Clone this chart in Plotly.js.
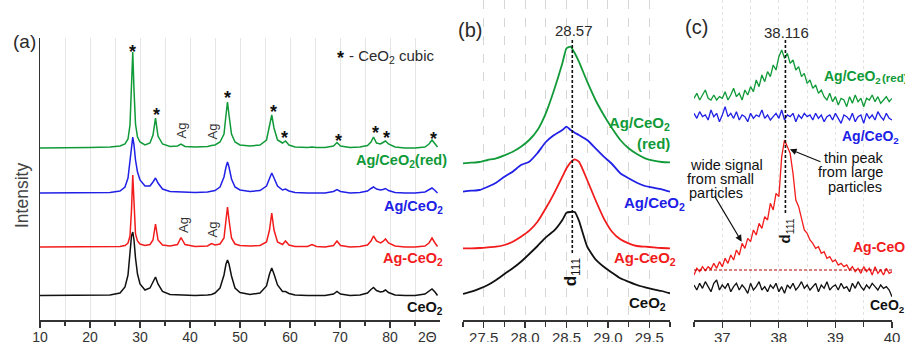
<!DOCTYPE html>
<html><head><meta charset="utf-8">
<script src="https://cdn.plot.ly/plotly-3.0.1.min.js"></script>
<style>html,body{margin:0;padding:0;background:#fff}#chart{width:905px;height:342px}</style>
</head><body><div id="chart"></div>
<script>
// ---------- Panel (a): full XRD patterns (stacked, arbitrary units) ----------
const thetaA = [10, 15, 20, 24, 26, 27, 27.6, 28.0, 28.3, 28.55, 28.8, 29.1, 29.5, 30, 31, 32, 32.6, 33.1, 33.6, 34.5,
  36, 37.5, 38.2, 39, 41, 43.5, 44.3, 45, 46, 46.8, 47.2, 47.5, 47.8, 48.3, 49, 50, 52, 54, 55.3, 55.9,
  56.35, 56.8, 57.5, 58.5, 59.1, 59.8, 61, 63.5, 64.4, 65.3, 67, 68.7, 69.4, 70.1, 72, 74, 75.5, 76.2, 76.7, 77.3,
  78.1, 78.6, 79.1, 79.7, 81, 83, 85, 87, 87.8, 88.4, 89, 89.5];
const aAgCeO2red = [172, 172, 172.5, 173, 174, 176, 181, 195, 235, 268, 230, 196, 183, 178, 175, 177, 185, 202, 184, 176,
  173.5, 174, 176, 173.5, 173, 173.5, 174.5, 175, 178, 186, 205, 218, 205, 186, 178, 175, 174, 175, 180, 193,
  205, 192, 180, 177, 179, 175, 173, 172.5, 173, 172.5, 172.5, 174, 177.5, 174, 172.5, 173, 174.5, 178, 183, 177,
  176, 177.5, 179, 176, 173, 172, 172, 173, 176, 180, 176, 173];
const aAgCeO2 = [127, 127, 127, 127.5, 129, 133, 142, 160, 178, 183, 175, 160, 148, 140, 134, 134, 138, 142, 137, 131,
  128.5, 128, 128, 127.5, 127.5, 128, 128.5, 129.5, 133, 143, 153, 158, 153, 141, 133, 130, 128.5, 129.5, 134, 142,
  147, 142, 134, 130, 131, 129, 127.5, 127, 127, 127, 127, 128.5, 130.5, 128.5, 127, 127.5, 129, 131.5, 133, 131,
  130, 130.5, 131.5, 129.5, 127.5, 127, 127, 128, 130, 132, 129.5, 127];
const aAg_CeO2 = [73, 73, 73, 73, 73.5, 74.5, 77, 84, 110, 145, 115, 86, 79, 76, 74.5, 75.5, 80, 96, 80, 75,
  74, 75.5, 82.5, 75.5, 73.5, 74, 76.5, 75, 76, 82, 100, 113, 100, 82, 76, 74.5, 74, 74.5, 78, 90,
  107, 90, 78, 75.5, 79, 75, 73.5, 73.5, 75.5, 73.5, 73, 74.5, 79, 74.5, 73, 73.5, 75, 79, 84, 79,
  77, 78.5, 81, 77, 74, 73, 73, 74, 77, 82, 77, 73.5];
const aCeO2 = [24.5, 24.5, 24.5, 25, 27, 33, 45, 68, 84, 88, 80, 62, 46, 36, 30, 32, 38, 43, 36, 28.5,
  25.5, 25, 25, 24.5, 24.5, 25, 25.5, 27, 32, 45, 56, 60, 56, 44, 32, 27.5, 25.5, 27, 34, 46,
  52, 46, 35, 28.5, 28.5, 26.5, 25, 24.5, 24.5, 24.5, 24.5, 26, 28.5, 26, 24.5, 25, 27, 30.5, 32.5, 29.5,
  28, 28.5, 30, 27.5, 25, 24.5, 24.5, 26, 29, 31, 28, 24.5];
const tickA = [10, 20, 30, 40, 50, 60, 70, 80];
const tickAMinor = [15, 25, 35, 45, 55, 65, 75, 85];
const starPeaksA = [[28.5, 273], [33.3, 210], [47.5, 227], [56.7, 213], [58.9, 187], [69.7, 184], [77.0, 192], [79.2, 187], [88.7, 186]];
const agPeaksA = [[38.1, 189], [44.3, 188], [38.6, 95], [44.3, 90]];

// ---------- Panel (b): (111) reflection zoom ----------
const thetaB = [27.25, 27.35, 27.45, 27.55, 27.65, 27.75, 27.85, 27.95, 28.05, 28.15, 28.25, 28.35, 28.45, 28.5,
  28.55, 28.6, 28.65, 28.75, 28.85, 28.95, 29.05, 29.15, 29.25, 29.35, 29.45, 29.55, 29.65, 29.75];
const bAgCeO2red = [156.7, 157.3, 158.0, 160.0, 161.7, 164.7, 168.3, 173.3, 180.0, 190.0, 206.7, 230.0, 256.7, 271.7,
  273.3, 266.7, 258.3, 238.3, 220.0, 205.0, 191.7, 180.0, 171.7, 166.0, 161.7, 159.3, 158.0, 157.7];
const bAgCeO2 = [128.3, 129.3, 130.0, 133.3, 137.3, 143.3, 148.3, 155.0, 158.3, 167.0, 178.0, 185.0, 190.0, 193.3,
  190.0, 187.3, 185.0, 180.0, 171.7, 163.3, 156.0, 146.7, 141.7, 137.3, 134.0, 132.3, 130.7, 128.3];
const bAg_CeO2 = [71.7, 71.7, 72.0, 72.7, 73.3, 75.0, 78.3, 83.3, 89.3, 98.3, 111.7, 126.7, 143.3, 151.7,
  157.7, 160.7, 158.3, 140.0, 120.0, 101.7, 88.3, 80.7, 76.7, 74.0, 73.3, 72.7, 72.0, 71.7];
const bCeO2 = [26.0, 28.3, 31.3, 35.0, 40.0, 46.0, 51.7, 58.3, 66.0, 74.0, 82.7, 89.3, 100.0, 107.3,
  108.0, 108.0, 99.3, 73.3, 60.7, 53.3, 47.3, 41.7, 38.3, 35.0, 32.7, 30.7, 29.0, 26.7];
const tickB = [27.5, 28.0, 28.5, 29.0, 29.5];
const tickBText = ['27.5', '28.0', '28.5', '29.0', '29.5'];
const tickBMinor = [27.25, 27.75, 28.25, 28.75, 29.25, 29.75];
const peakB = 28.57;

// ---------- Panel (c): Ag (111) reflection zoom ----------
const thetaC = [36.5, 36.55, 36.6, 36.65, 36.7, 36.75, 36.8, 36.85, 36.9, 36.95,
  37.0, 37.05, 37.1, 37.15, 37.2, 37.25, 37.3, 37.35, 37.4, 37.45,
  37.5, 37.55, 37.6, 37.65, 37.7, 37.75, 37.8, 37.85, 37.9, 37.95,
  38.0, 38.05, 38.1, 38.15, 38.2, 38.25, 38.3, 38.35, 38.4, 38.45,
  38.5, 38.55, 38.6, 38.65, 38.7, 38.75, 38.8, 38.85, 38.9, 38.95,
  39.0, 39.05, 39.1, 39.15, 39.2, 39.25, 39.3, 39.35, 39.4, 39.45,
  39.5, 39.55, 39.6, 39.65, 39.7, 39.75, 39.8, 39.85, 39.9, 39.95, 40.0];
const cAgCeO2red = [665, 680, 660, 675, 690, 665, 660, 675, 660, 670, 665, 685, 660, 675, 695, 670, 680, 660, 690, 675,
  700, 685, 720, 700, 735, 715, 745, 730, 765, 750, 790, 810, 785, 800, 770, 780, 750, 760, 730, 740,
  710, 720, 695, 705, 680, 690, 670, 660, 680, 655, 670, 645, 665, 660, 640, 670, 650, 675, 655, 665,
  640, 665, 660, 675, 655, 670, 650, 660, 670, 655, 665];
const cAgCeO2 = [620, 605, 625, 610, 615, 600, 630, 610, 620, 595, 615, 640, 610, 620, 605, 625, 600, 615, 610, 595,
  620, 605, 615, 610, 630, 605, 615, 600, 610, 620, 605, 630, 600, 615, 610, 620, 595, 615, 605, 620,
  610, 615, 600, 620, 605, 615, 595, 610, 615, 600, 620, 605, 590, 615, 610, 600, 620, 595, 610, 615,
  590, 620, 605, 615, 600, 625, 610, 600, 620, 605, 600];
const cAg_CeO2 = [135, 155, 145, 160, 148, 160, 152, 170, 155, 175, 160, 185, 170, 195, 180, 210, 195, 230, 215, 245,
  235, 270, 255, 290, 275, 310, 300, 350, 330, 380, 370, 490, 540, 520, 500, 440, 360, 340, 300, 270,
  260, 240, 230, 215, 220, 200, 205, 185, 190, 175, 180, 165, 170, 160, 165, 150, 160, 145, 155, 140,
  160, 145, 155, 135, 160, 140, 150, 135, 155, 140, 145];
const cCeO2 = [105, 90, 110, 95, 115, 100, 85, 110, 120, 90, 105, 95, 110, 85, 100, 110, 90, 105, 95, 80,
  110, 90, 100, 115, 90, 100, 85, 105, 95, 110, 85, 100, 80, 105, 95, 110, 90, 100, 115, 95,
  105, 90, 100, 110, 85, 105, 95, 115, 90, 100, 105, 90, 110, 95, 100, 85, 110, 95, 115, 100,
  90, 105, 95, 110, 100, 90, 105, 95, 100, 90, 70];
const tickC = [37, 38, 39, 40];
const tickCMinor = [36.5, 37.5, 38.5, 39.5];
const peakC = 38.116;
const baseC = 150;

// ---------- styling ----------
const W = 905, H = 342;
const FONT = '"Liberation Sans", Arial, Helvetica, sans-serif';
const GREEN = '#109a38', BLUE = '#2020e6', RED = '#f21c1c', BLACK = '#111111', TXT = '#2a2a2a';

function line(x, y, xa, ya, color, w) {
  return {x: x, y: y, xaxis: xa, yaxis: ya, type: 'scatter', mode: 'lines',
    line: {color: color, width: w}, hoverinfo: 'skip', showlegend: false};
}
function splineLine(x, y, xa, ya, color, w) {
  const t = line(x, y, xa, ya, color, w);
  t.line.shape = 'spline'; t.line.smoothing = 0.5;
  return t;
}
const traces = [
  line(thetaA, aCeO2, 'x', 'y', BLACK, 1.5),
  line(thetaA, aAg_CeO2, 'x', 'y', RED, 1.5),
  line(thetaA, aAgCeO2, 'x', 'y', BLUE, 1.5),
  line(thetaA, aAgCeO2red, 'x', 'y', GREEN, 1.5),
  splineLine(thetaB, bCeO2, 'x2', 'y2', BLACK, 1.8),
  splineLine(thetaB, bAg_CeO2, 'x2', 'y2', RED, 1.8),
  splineLine(thetaB, bAgCeO2, 'x2', 'y2', BLUE, 1.8),
  splineLine(thetaB, bAgCeO2red, 'x2', 'y2', GREEN, 1.8),
  line(thetaC, cCeO2, 'x3', 'y3', BLACK, 1.3),
  line(thetaC, cAg_CeO2, 'x3', 'y3', RED, 1.3),
  line(thetaC, cAgCeO2, 'x3', 'y3', BLUE, 1.3),
  line(thetaC, cAgCeO2red, 'x3', 'y3', GREEN, 1.3)
];

function P(text, px, py, size, color, xanchor, extra) {
  return Object.assign({xref: 'paper', yref: 'paper', x: px / W, y: 1 - py / H, text: text, showarrow: false,
    xanchor: xanchor || 'center', yanchor: 'middle', font: {family: FONT, size: size, color: color || TXT}}, extra || {});
}
function D(text, xr, yr, x, y, size, color, extra) {
  return Object.assign({xref: xr, yref: yr, x: x, y: y, text: text, showarrow: false,
    xanchor: 'center', yanchor: 'middle', font: {family: FONT, size: size, color: color || TXT}}, extra || {});
}
const sub2 = 'CeO<sub>2</sub>';
const ann = [];
// panel tags
ann.push(P('(a)', 24, 42, 19));
ann.push(P('(b)', 470, 30, 20));
ann.push(P('(c)', 696, 27, 20));
ann.push(P('Intensity', 22, 196, 17.5, '#444', 'center', {textangle: -90}));
ann.push(P('2Θ', 427, 337, 14, '#333'));
// panel (a)
ann.push(P('<b>*</b>', 340, 58, 18, BLACK));
ann.push(P('- ' + sub2 + ' cubic', 437, 56, 15, TXT, 'right'));
starPeaksA.forEach(p => ann.push(D('<b>*</b>', 'x', 'y', p[0], p[1], 18, BLACK, {yshift: -5})));
agPeaksA.forEach(p => ann.push(D('Ag', 'x', 'y', p[0], p[1], 13, '#333', {textangle: -90})));
ann.push(P('<b>Ag/' + sub2 + '(red)</b>', 449, 161, 14.5, GREEN, 'right'));
ann.push(P('<b>Ag/' + sub2 + '</b>', 445, 207, 14.5, BLUE, 'right'));
ann.push(P('<b>Ag-' + sub2 + '</b>', 445, 259, 14.5, RED, 'right'));
ann.push(P('<b>' + sub2 + '</b>', 445, 308, 14.5, BLACK, 'right'));
// panel (b)
ann.push(P('28.57', 574, 30, 15));
ann.push(D('<b>d</b><sub>111</sub>', 'x2', 'y2', peakB, 48, 17, BLACK, {textangle: -90}));
ann.push(P('<b>Ag/' + sub2 + '</b>', 672, 123, 15, GREEN, 'right'));
ann.push(P('<b>(red)</b>', 672, 143, 15, GREEN, 'right'));
ann.push(P('<b>Ag/' + sub2 + '</b>', 687, 203, 15, BLUE, 'right'));
ann.push(P('<b>Ag-' + sub2 + '</b>', 678, 258, 15, RED, 'right'));
ann.push(P('<b>' + sub2 + '</b>', 668, 303, 15, BLACK, 'right'));
// panel (c)
ann.push(P('38.116', 786, 33, 15));
ann.push(D('<b>d</b><sub>111</sub>', 'x3', 'y3', peakC, 267, 15, BLACK, {textangle: -90}));
ann.push(P('<b>Ag/' + sub2 + '</b>', 822, 77, 14, GREEN, 'left'));
ann.push(P('<b>(red)</b>', 880, 78, 11.5, GREEN, 'left'));
ann.push(P('<b>Ag/' + sub2 + '</b>', 840, 137, 14, BLUE, 'left'));
ann.push(P('<b>Ag-' + sub2 + '</b>', 851, 248, 14, RED, 'left'));
ann.push(P('<b>' + sub2 + '</b>', 868, 306, 14, BLACK, 'left'));
ann.push(P('wide signal', 726, 165, 14.5, BLACK));
ann.push(P('from small', 720, 179, 14.5, BLACK));
ann.push(P('particles', 716, 193, 14.5, BLACK));
ann.push(P('thin peak', 854, 158, 14.5, BLACK));
ann.push(P('from large', 850, 172, 14.5, BLACK));
ann.push(P('particles', 855, 187, 14.5, BLACK));
ann.push({xref: 'x3', yref: 'y3', x: 37.343, y: 235, ax: -28, ay: -47, text: '', showarrow: true,
  arrowhead: 2, arrowsize: 1.1, arrowwidth: 1.2, arrowcolor: BLACK, standoff: 0});
ann.push({xref: 'x3', yref: 'y3', x: 38.196, y: 512, ax: 32, ay: 13, text: '', showarrow: true,
  arrowhead: 2, arrowsize: 1.1, arrowwidth: 1.2, arrowcolor: BLACK, standoff: 0});

const shapes = [
  {type: 'line', xref: 'x2', yref: 'y2', x0: peakB, x1: peakB, y0: 67, y1: 280, line: {color: BLACK, width: 1.6, dash: '3px,2px'}},
  {type: 'line', xref: 'x3', yref: 'y3', x0: peakC, x1: peakC, y0: 321, y1: 840, line: {color: BLACK, width: 1.6, dash: '3px,2px'}},
  {type: 'line', xref: 'x3', yref: 'y3', x0: 36.5, x1: 40, y0: baseC, y1: baseC, line: {color: '#b00000', width: 1, dash: '3px,2px'}}
];

const xCommon = {showline: true, linecolor: '#333', linewidth: 1.5, ticks: 'outside', ticklen: 6, tickwidth: 1.2,
  tickcolor: '#333', zeroline: false, fixedrange: true, showgrid: true, tickmode: 'array', ticklabelstandoff: -3};
const layout = {
  width: W, height: H, margin: {l: 0, r: 0, t: 0, b: 0}, paper_bgcolor: '#fff', plot_bgcolor: 'rgba(0,0,0,0)',
  font: {family: FONT, color: TXT}, showlegend: false,
  xaxis: Object.assign({}, xCommon, {domain: [40 / W, 440 / W], range: [10, 90], anchor: 'y', tickvals: tickA,
    tickfont: {size: 14, color: '#333'}, gridcolor: '#e6e6e6', gridwidth: 1, ticklabelstandoff: -2,
    minor: {tickvals: tickAMinor, ticks: 'outside', ticklen: 4, tickcolor: '#333', showgrid: true, gridcolor: '#e6e6e6'}}),
  yaxis: {domain: [22 / H, 304 / H], range: [0, 282], anchor: 'x', showline: true, linecolor: '#333', linewidth: 1.5,
    showticklabels: false, ticks: '', showgrid: false, zeroline: false, fixedrange: true},
  xaxis2: Object.assign({}, xCommon, {domain: [463 / W, 670 / W], range: [27.25, 29.75], anchor: 'y2', tickvals: tickB,
    ticktext: tickBText, tickfont: {size: 15, color: '#333'}, gridcolor: '#d6d6d6', griddash: 'dash',
    minor: {tickvals: tickBMinor, ticks: 'outside', ticklen: 5, tickcolor: '#333', showgrid: true, gridcolor: '#d6d6d6', griddash: 'dash'}}),
  yaxis2: {domain: [22 / H, 1], range: [0, 320], anchor: 'x2', visible: false, fixedrange: true},
  xaxis3: Object.assign({}, xCommon, {domain: [694 / W, 892 / W], range: [36.5, 40], anchor: 'y3', tickvals: tickC,
    tickfont: {size: 15, color: '#333'}, gridcolor: '#e2e2e2', griddash: 'dot',
    minor: {tickvals: tickCMinor, ticks: 'outside', ticklen: 5, tickcolor: '#333', showgrid: true, gridcolor: '#e2e2e2', griddash: 'dot'}}),
  yaxis3: {domain: [22 / H, 1], range: [0, 960], anchor: 'x3', visible: false, fixedrange: true},
  annotations: ann,
  shapes: shapes
};
Plotly.newPlot('chart', traces, layout, {displayModeBar: false, staticPlot: true});
</script>
</body></html>
